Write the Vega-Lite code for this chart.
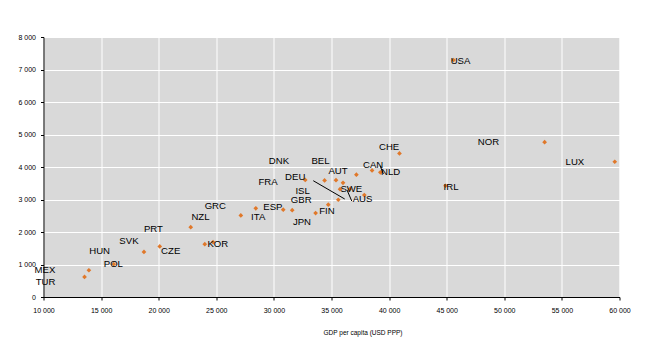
{
  "$schema": "https://vega.github.io/schema/vega-lite/v6.json",
  "width": 576,
  "height": 260,
  "autosize": {"type": "none"},
  "padding": {"left": 43.5, "top": 37, "right": 30.5, "bottom": 59},
  "background": "#ffffff",
  "config": {
    "view": {"stroke": null, "fill": "#d9d9d9"},
    "font": "Liberation Sans",
    "axis": {
      "domainColor": "#000000",
      "domainWidth": 1,
      "tickColor": "#000000",
      "tickSize": 3,
      "gridColor": "#ffffff",
      "gridWidth": 1,
      "gridOpacity": 1,
      "labelFont": "Liberation Sans",
      "labelFontSize": 7,
      "labelColor": "#000000",
      "labelOverlap": false,
      "titleFont": "Liberation Sans",
      "titleFontWeight": "normal",
      "titleColor": "#000000"
    }
  },
  "datasets": {
    "countries": [
      {"c": "TUR", "gdp": 13560, "exp": 618, "lx": 10174, "ly": 471},
      {"c": "MEX", "gdp": 13940, "exp": 823, "lx": 10130, "ly": 831},
      {"c": "POL", "gdp": 16090, "exp": 1010, "lx": 16061, "ly": 1006},
      {"c": "HUN", "gdp": 18720, "exp": 1388, "lx": 14870, "ly": 1415},
      {"c": "SVK", "gdp": 20090, "exp": 1555, "lx": 17417, "ly": 1714},
      {"c": "CZE", "gdp": 24000, "exp": 1626, "lx": 21043, "ly": 1425},
      {"c": "KOR", "gdp": 24720, "exp": 1688, "lx": 25130, "ly": 1621},
      {"c": "PRT", "gdp": 22780, "exp": 2150, "lx": 19539, "ly": 2102},
      {"c": "NZL", "gdp": 27130, "exp": 2510, "lx": 23626, "ly": 2471},
      {"c": "GRC", "gdp": 28430, "exp": 2727, "lx": 24913, "ly": 2810},
      {"c": "ITA", "gdp": 30810, "exp": 2686, "lx": 28635, "ly": 2471},
      {"c": "ESP", "gdp": 31590, "exp": 2671, "lx": 29913, "ly": 2779},
      {"c": "JPN", "gdp": 33620, "exp": 2581, "lx": 32435, "ly": 2298},
      {"c": "FIN", "gdp": 34720, "exp": 2840, "lx": 34609, "ly": 2637},
      {"c": "GBR", "gdp": 35590, "exp": 2992, "lx": 32374, "ly": 2995},
      {"c": "FRA", "gdp": 32720, "exp": 3601, "lx": 29496, "ly": 3548},
      {"c": "DEU", "gdp": 34400, "exp": 3588, "lx": 31852, "ly": 3702},
      {"c": "BEL", "gdp": 35390, "exp": 3595, "lx": 34043, "ly": 4194},
      {"c": "DNK", "gdp": 36000, "exp": 3512, "lx": 30435, "ly": 4194},
      {"c": "ISL", "gdp": 35740, "exp": 3319, "lx": 32496, "ly": 3271},
      {"c": "SWE", "gdp": 36600, "exp": 3323, "lx": 36722, "ly": 3323},
      {"c": "AUS", "gdp": 37850, "exp": 3137, "lx": 37696, "ly": 3006},
      {"c": "AUT", "gdp": 37160, "exp": 3763, "lx": 35565, "ly": 3887},
      {"c": "CAN", "gdp": 38520, "exp": 3895, "lx": 38609, "ly": 4071},
      {"c": "NLD", "gdp": 39240, "exp": 3837, "lx": 40130, "ly": 3856},
      {"c": "CHE", "gdp": 40900, "exp": 4417, "lx": 40000, "ly": 4606},
      {"c": "IRL", "gdp": 44900, "exp": 3424, "lx": 45374, "ly": 3394},
      {"c": "USA", "gdp": 45590, "exp": 7290, "lx": 46200, "ly": 7271},
      {"c": "NOR", "gdp": 53500, "exp": 4763, "lx": 48626, "ly": 4778},
      {"c": "LUX", "gdp": 59590, "exp": 4162, "lx": 56130, "ly": 4145}
    ],
    "leaders": [
      {"x1": 33417, "y1": 3578, "x2": 36148, "y2": 3015},
      {"x1": 36348, "y1": 3292, "x2": 36757, "y2": 2954},
      {"x1": 39217, "y1": 4040, "x2": 39504, "y2": 3785}
    ]
  },
  "layer": [
    {
      "data": {"name": "countries"},
      "mark": {"type": "point", "shape": "diamond", "filled": true, "size": 22, "color": "#e0782a", "opacity": 1},
      "encoding": {
        "x": {
          "field": "gdp", "type": "quantitative",
          "scale": {"domain": [10000, 60000], "nice": false, "zero": false},
          "axis": {
            "values": [10000, 15000, 20000, 25000, 30000, 35000, 40000, 45000, 50000, 55000, 60000],
            "format": ",d",
            "labelExpr": "replace(datum.label, ',', ' ')",
            "labelPadding": 6,
            "title": "GDP per capita (USD PPP)",
            "titleFontSize": 6.5,
            "titleX": 319,
            "titleY": 35,
            "titleAlign": "center",
            "titleBaseline": "middle",
            "labelFlush": false
          }
        },
        "y": {
          "field": "exp", "type": "quantitative",
          "scale": {"domain": [0, 8000], "nice": false},
          "axis": {
            "values": [0, 1000, 2000, 3000, 4000, 5000, 6000, 7000, 8000],
            "tickCount": 9,
            "format": ",d",
            "labelExpr": "replace(datum.label, ',', ' ')",
            "labelPadding": 5,
            "title": null
          }
        }
      }
    },
    {
      "data": {"name": "leaders"},
      "mark": {"type": "rule", "color": "#000000", "strokeWidth": 1},
      "encoding": {
        "x": {
          "field": "x1", "type": "quantitative",
          "axis": {
            "values": [10000, 15000, 20000, 25000, 30000, 35000, 40000, 45000, 50000, 55000, 60000],
            "format": ",d",
            "labelExpr": "replace(datum.label, ',', ' ')",
            "labelPadding": 6,
            "title": "GDP per capita (USD PPP)",
            "titleFontSize": 6.5,
            "titleX": 319,
            "titleY": 35,
            "titleAlign": "center",
            "titleBaseline": "middle",
            "labelFlush": false
          }
        },
        "y": {
          "field": "y1", "type": "quantitative",
          "axis": {
            "values": [0, 1000, 2000, 3000, 4000, 5000, 6000, 7000, 8000],
            "tickCount": 9,
            "format": ",d",
            "labelExpr": "replace(datum.label, ',', ' ')",
            "labelPadding": 5,
            "title": null
          }
        },
        "x2": {"field": "x2"},
        "y2": {"field": "y2"}
      }
    },
    {
      "data": {"name": "countries"},
      "mark": {"type": "text", "fontSize": 9.6, "font": "Liberation Sans", "color": "#000000", "align": "center", "baseline": "middle"},
      "encoding": {
        "x": {
          "field": "lx", "type": "quantitative",
          "axis": {
            "values": [10000, 15000, 20000, 25000, 30000, 35000, 40000, 45000, 50000, 55000, 60000],
            "format": ",d",
            "labelExpr": "replace(datum.label, ',', ' ')",
            "labelPadding": 6,
            "title": "GDP per capita (USD PPP)",
            "titleFontSize": 6.5,
            "titleX": 319,
            "titleY": 35,
            "titleAlign": "center",
            "titleBaseline": "middle",
            "labelFlush": false
          }
        },
        "y": {
          "field": "ly", "type": "quantitative",
          "axis": {
            "values": [0, 1000, 2000, 3000, 4000, 5000, 6000, 7000, 8000],
            "tickCount": 9,
            "format": ",d",
            "labelExpr": "replace(datum.label, ',', ' ')",
            "labelPadding": 5,
            "title": null
          }
        },
        "text": {"field": "c"}
      }
    }
  ]
}
